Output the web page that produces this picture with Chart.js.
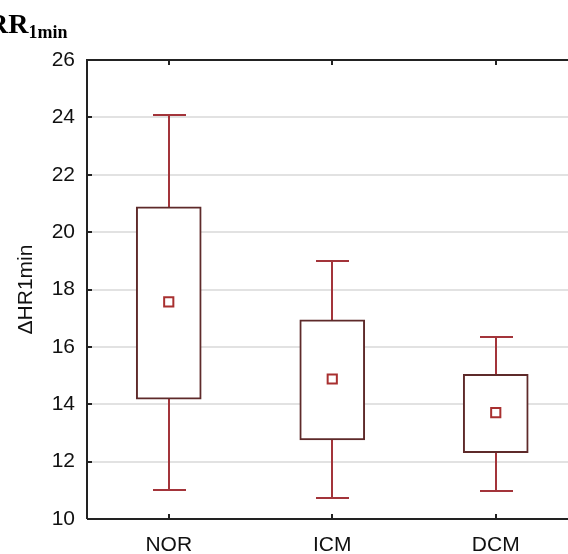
<!DOCTYPE html>
<html>
<head>
<meta charset="utf-8">
<script src="https://cdn.jsdelivr.net/npm/chart.js@4.4.1/dist/chart.umd.min.js"></script>
<style>
  html, body { margin: 0; padding: 0; background: #fff; overflow: hidden; }
  #wrap { position: relative; width: 568px; height: 554px; overflow: hidden; }
  #box { position: absolute; left: 0; top: 0; width: 586px; height: 554px; }
  #title { position: absolute; left: -12px; top: 8px; font-family: "Liberation Serif", serif; font-weight: bold; font-size: 28px; color: #000; white-space: nowrap; }
  #title sub { font-size: 18px; vertical-align: -5px; }
</style>
</head>
<body>
<div id="wrap">
  <div id="box"><canvas id="chart"></canvas></div>
  <div id="title">RR<sub>1min</sub></div>
</div>
<script>
var groups = ['NOR', 'ICM', 'DCM'];
var whiskerLow = [11.0, 10.72, 10.99];
var boxLow = [14.18, 12.76, 12.31];
var means = [17.57, 14.88, 13.71];
var boxHigh = [20.88, 16.94, 15.04];
var whiskerHigh = [24.08, 18.99, 16.33];
var yTicks = [10, 12, 14, 16, 18, 20, 22, 24, 26];

var boxColor = '#5e2a2a';
var whiskerColor = '#a3343a';

var boxes = [];
for (let i = 0; i < groups.length; i++) {
    boxes.push([boxLow[i], boxHigh[i]]);
}

// whiskers, frame and inward ticks
var boxPlugin = {
    id: 'boxPlugin',
    beforeDatasetsDraw(chart) {
        let ctx = chart.ctx;
        let x = chart.scales.x;
        let y = chart.scales.y;
        ctx.save();
        ctx.strokeStyle = whiskerColor;
        ctx.lineWidth = 2;
        for (let i = 0; i < groups.length; i++) {
            let cx = Math.round(x.getPixelForValue(i));
            let pts = [[whiskerLow[i], boxLow[i]], [boxHigh[i], whiskerHigh[i]]];
            ctx.beginPath();
            for (let p of pts) {
                ctx.moveTo(cx, y.getPixelForValue(p[0]));
                ctx.lineTo(cx, y.getPixelForValue(p[1]));
            }
            for (let v of [whiskerLow[i], whiskerHigh[i]]) {
                let py = Math.round(y.getPixelForValue(v));
                ctx.moveTo(cx - 16, py);
                ctx.lineTo(cx + 17, py);
            }
            ctx.stroke();
        }
        ctx.restore();
    },
    afterDraw(chart) {
        let ctx = chart.ctx;
        let a = chart.chartArea;
        let x = chart.scales.x;
        let y = chart.scales.y;
        ctx.save();
        ctx.strokeStyle = '#222';
        ctx.lineWidth = 2;
        ctx.beginPath();
        ctx.moveTo(a.left, a.bottom);
        ctx.lineTo(a.left, a.top);
        ctx.lineTo(a.right, a.top);
        ctx.moveTo(a.left, a.bottom);
        ctx.lineTo(a.right, a.bottom);
        for (let t of yTicks) {
            let py = Math.round(y.getPixelForValue(t));
            ctx.moveTo(a.left, py);
            ctx.lineTo(a.left + 5, py);
        }
        for (let i = 0; i < groups.length; i++) {
            let px = Math.round(x.getPixelForValue(i));
            ctx.moveTo(px, a.bottom);
            ctx.lineTo(px, a.bottom - 5);
            ctx.moveTo(px, a.top);
            ctx.lineTo(px, a.top + 5);
        }
        ctx.stroke();
        ctx.restore();
    }
};

var ctx = document.getElementById('chart').getContext('2d');
var chart = new Chart(ctx, {
    type: 'bar',
    data: {
        labels: groups,
        datasets: [{
            type: 'line',
            data: means,
            showLine: false,
            pointStyle: 'rect',
            pointRadius: 6.5,
            pointBorderWidth: 2,
            pointBorderColor: '#a83030',
            pointBackgroundColor: '#fff',
            order: 0
        }, {
            data: boxes,
            backgroundColor: '#fff',
            borderColor: boxColor,
            borderWidth: 2,
            borderSkipped: false,
            barThickness: 65,
            order: 1
        }]
    },
    options: {
        responsive: true,
        maintainAspectRatio: false,
        animation: false,
        layout: { padding: { top: 60, right: 1, left: 0, bottom: 0 } },
        plugins: { legend: { display: false }, tooltip: { enabled: false } },
        scales: {
            x: {
                grid: { display: false },
                border: { display: false },
                ticks: { color: '#111', font: { family: 'Liberation Sans', size: 21 }, padding: 6 },
                afterFit(scale) { scale.height = 35; }
            },
            y: {
                min: 10,
                max: 26,
                afterBuildTicks(scale) { scale.ticks = yTicks.map(v => ({ value: v })); },
                grid: {
                    color: function(c) { return (c.tick.value === 10 || c.tick.value === 26) ? 'rgba(0,0,0,0)' : '#e2e2e2'; },
                    lineWidth: 2,
                    drawTicks: false
                },
                border: { display: false },
                ticks: { color: '#111', font: { family: 'Liberation Sans', size: 21 }, padding: 12 },
                title: {
                    display: true,
                    text: 'ΔHR1min',
                    color: '#111',
                    font: { family: 'Liberation Sans', size: 21 },
                    padding: { top: 14, bottom: 0 }
                },
                afterFit(scale) { scale.width = 87; }
            }
        }
    },
    plugins: [boxPlugin]
});
</script>
</body>
</html>
